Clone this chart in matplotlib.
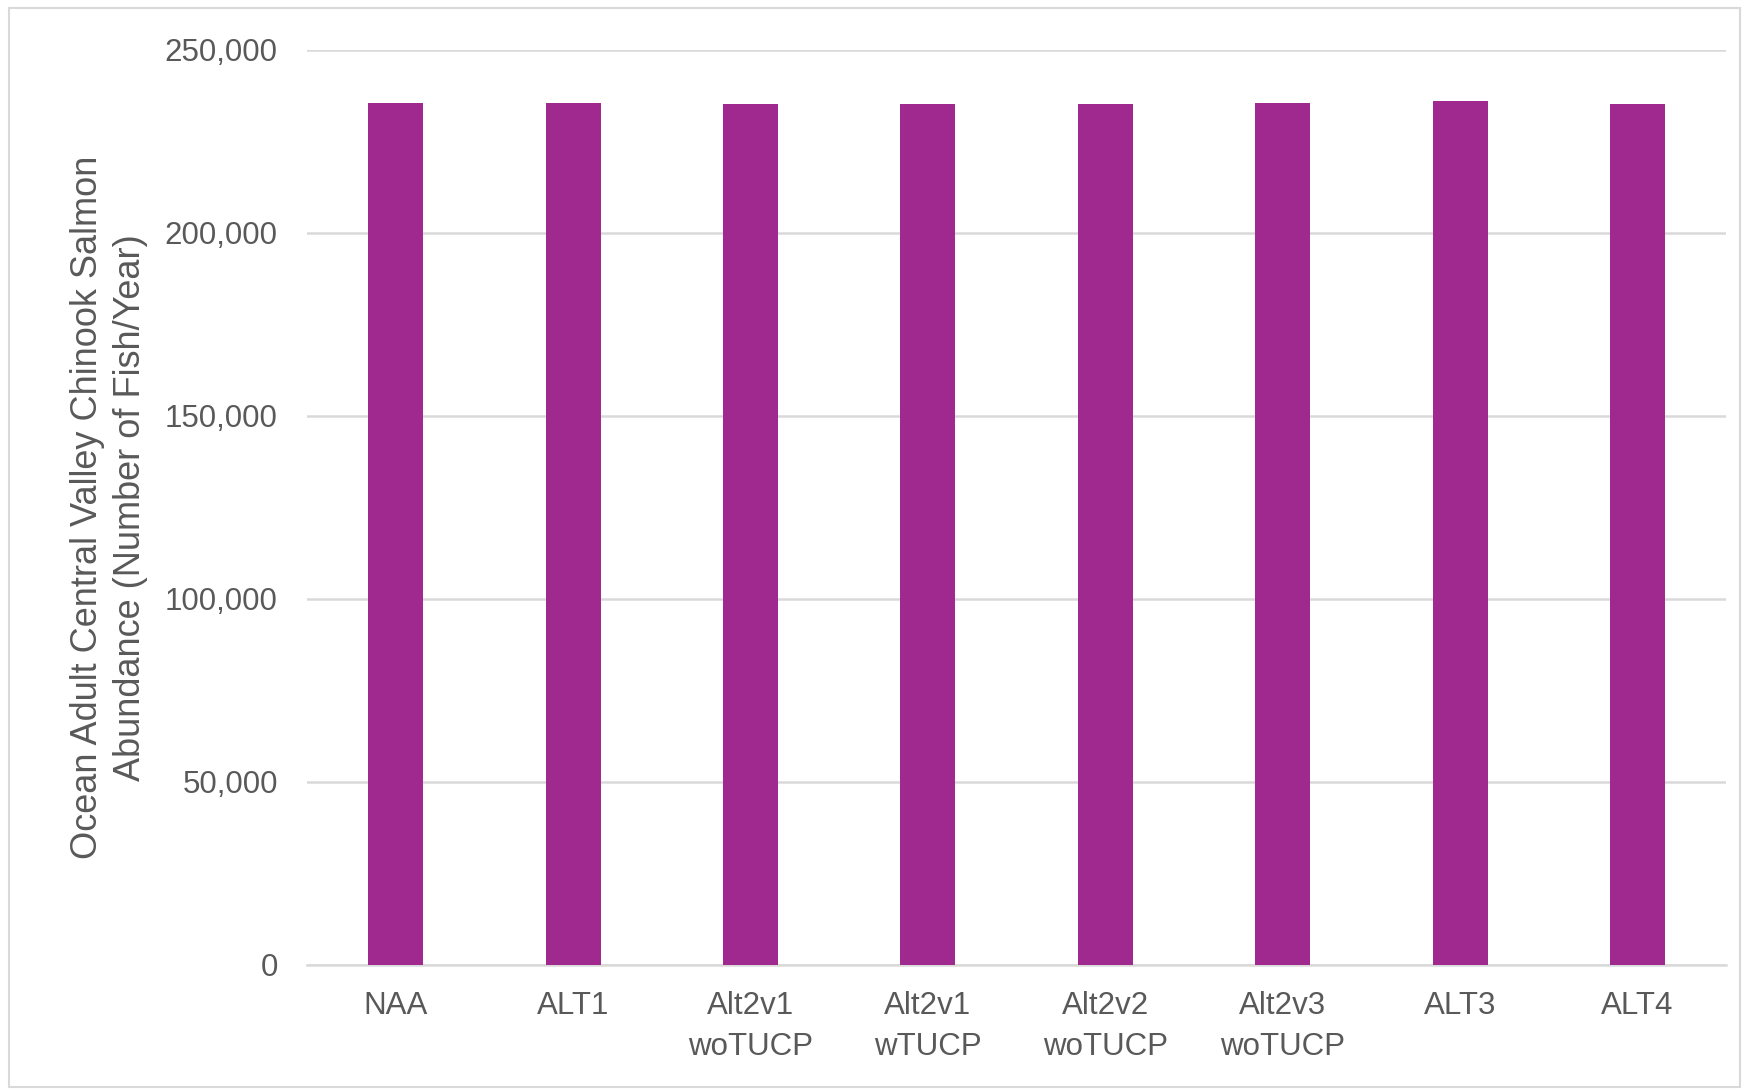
import matplotlib
matplotlib.use("Agg")
import matplotlib.pyplot as plt
from matplotlib.patches import Rectangle
from matplotlib.ticker import FuncFormatter

categories = ["NAA", "ALT1", "Alt2v1\nwoTUCP", "Alt2v1\nwTUCP", "Alt2v2\nwoTUCP",
              "Alt2v3\nwoTUCP", "ALT3", "ALT4"]
abundance = [235600, 235600, 235200, 235200, 235200, 235400, 236100, 235200]
y_ticks = [0, 50000, 100000, 150000, 200000, 250000]

plt.rcParams["font.family"] = ["Liberation Sans", "DejaVu Sans"]
text_color = "#595959"
grid_color = "#D9D9D9"

fig = plt.figure(figsize=(17.49, 10.91), dpi=100)
ax = fig.add_axes([0.1755, 0.1155, 0.8115, 0.8387])

x = range(len(categories))
ax.bar(x, abundance, width=0.31, color="#A0298F", zorder=3)

ax.set_xlim(-0.5, len(categories) - 0.5)
ax.set_ylim(0, 250000)
ax.set_yticks(y_ticks)
ax.yaxis.set_major_formatter(FuncFormatter(lambda v, p: f"{int(v):,}"))
ax.set_xticks(list(x))
ax.set_xticklabels(categories, linespacing=1.45)

ax.grid(axis="y", color=grid_color, linewidth=1.8, zorder=0)
for side in ["top", "right", "left"]:
    ax.spines[side].set_visible(False)
ax.spines["bottom"].set_color(grid_color)
ax.spines["bottom"].set_linewidth(1.8)

ax.tick_params(axis="both", length=0, labelsize=22.5, colors=text_color)
ax.tick_params(axis="y", pad=21)
ax.tick_params(axis="x", pad=19)

ax.set_ylabel("Ocean Adult Central Valley Chinook Salmon\nAbundance (Number of Fish/Year)",
              fontsize=26, color=text_color, labelpad=12, linespacing=1.3)

# light border around the chart area
fig.patches.append(Rectangle((0.005, 0.004), 0.99, 0.989, transform=fig.transFigure,
                             fill=False, edgecolor=grid_color, linewidth=1.5))

fig.savefig("out.png", dpi=100)
